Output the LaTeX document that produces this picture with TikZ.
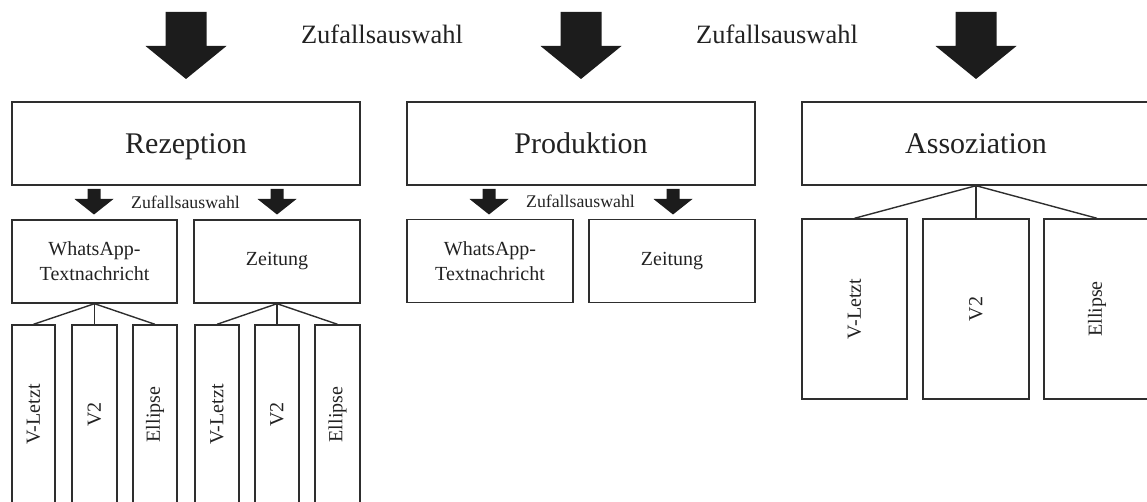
\documentclass[tikz,border=0pt]{standalone}
\usepackage{fontspec}
\setmainfont{Liberation Serif}
\definecolor{linecol}{HTML}{2E2E2E}
\definecolor{txtcol}{HTML}{222222}
\definecolor{arrowfill}{HTML}{1C1C1C}
\begin{document}
\begin{tikzpicture}[x=1pt,y=-1pt,
  box/.style={draw=linecol, line width=1.4pt, rectangle, inner sep=0pt, text=txtcol},
  topbox/.style={box, minimum width=348pt, minimum height=83pt, text height=24pt, text depth=3pt, font=\fontsize{30}{36}\selectfont},
  midbox/.style={box, minimum height=83pt, align=center, font=\fontsize{20}{25}\selectfont},
  vbox/.style={box, minimum height=179pt},
  abox/.style={box, minimum height=180pt},
  vlabel/.style={rotate=90, text=txtcol, inner sep=0pt, font=\fontsize{20}{24}\selectfont},
  toplabel/.style={anchor=base, text=txtcol, inner sep=0pt, font=\fontsize{26.5}{30}\selectfont},
  smalllabel/.style={anchor=base, text=txtcol, inner sep=0pt, font=\fontsize{17.8}{21}\selectfont},
  tree/.style={draw=linecol, line width=1.4pt},
  bigarr/.pic={\fill[arrowfill] (-20.5,12) -- (20.5,12) -- (20.5,46) -- (40.5,46) -- (0,79) -- (-40.5,46) -- (-20.5,46) -- cycle;},
  smallarr/.pic={\fill[arrowfill] (-6.5,189) -- (6.5,189) -- (6.5,199) -- (19.5,199) -- (0,214.5) -- (-19.5,199) -- (-6.5,199) -- cycle;}
]
\useasboundingbox (0,0) rectangle (1147,502);
\clip (0,0) rectangle (1147,502);

% top arrows and labels
\pic at (186,0) {bigarr};
\pic at (581,0) {bigarr};
\pic at (976,0) {bigarr};
\node[toplabel] (z1) at (382,44) {Zufallsauswahl};
\node[toplabel] (z2) at (777,44) {Zufallsauswahl};

% main boxes
\node[topbox] (rez) at (186,143.5) {Rezeption};
\node[topbox] (pro) at (581,143.5) {Produktion};
\node[topbox] (ass) at (976,143.5) {Assoziation};

% small arrows and labels
\pic at (94,0) {smallarr};
\pic at (277,0) {smallarr};
\pic at (489,0) {smallarr};
\pic at (673,0) {smallarr};
\node[smalllabel] (zr) at (185.5,208.5) {Zufallsauswahl};
\node[smalllabel] (zp) at (580.5,208) {Zufallsauswahl};

% Rezeption sub boxes
\node[midbox, minimum width=165pt] (rwa) at (94.5,261.5) {WhatsApp-\\Textnachricht};
\node[midbox, minimum width=166pt] (rze) at (277,261.5) {Zeitung};

\node[vbox, minimum width=43pt, label={[vlabel]center:V-Letzt}] (ra1) at (33.5,414.5) {};
\node[vbox, minimum width=45pt, label={[vlabel]center:V2}] (ra2) at (94.5,414.5) {};
\node[vbox, minimum width=44pt, label={[vlabel]center:Ellipse}] (ra3) at (155,414.5) {};
\node[vbox, minimum width=44pt, label={[vlabel]center:V-Letzt}] (rb1) at (217,414.5) {};
\node[vbox, minimum width=44pt, label={[vlabel]center:V2}] (rb2) at (277,414.5) {};
\node[vbox, minimum width=45pt, label={[vlabel]center:Ellipse}] (rb3) at (337.5,414.5) {};

\draw[tree] (rwa.south) -- (ra1.north);
\draw[tree] (rwa.south) -- (ra2.north);
\draw[tree] (rwa.south) -- (ra3.north);
\draw[tree] (rze.south) -- (rb1.north);
\draw[tree] (rze.south) -- (rb2.north);
\draw[tree] (rze.south) -- (rb3.north);

% Produktion sub boxes
\node[midbox, minimum width=166pt] (pwa) at (490,261) {WhatsApp-\\Textnachricht};
\node[midbox, minimum width=166pt] (pze) at (672,261) {Zeitung};

% Assoziation sub boxes
\node[abox, minimum width=105pt, label={[vlabel]center:V-Letzt}] (aa1) at (854.5,309) {};
\node[abox, minimum width=106pt, label={[vlabel]center:V2}] (aa2) at (976,309) {};
\node[abox, minimum width=106pt, label={[vlabel]center:Ellipse}] (aa3) at (1097,309) {};

\draw[tree] (ass.south) -- (aa1.north);
\draw[tree] (ass.south) -- (aa2.north);
\draw[tree] (ass.south) -- (aa3.north);
\end{tikzpicture}
\end{document}
